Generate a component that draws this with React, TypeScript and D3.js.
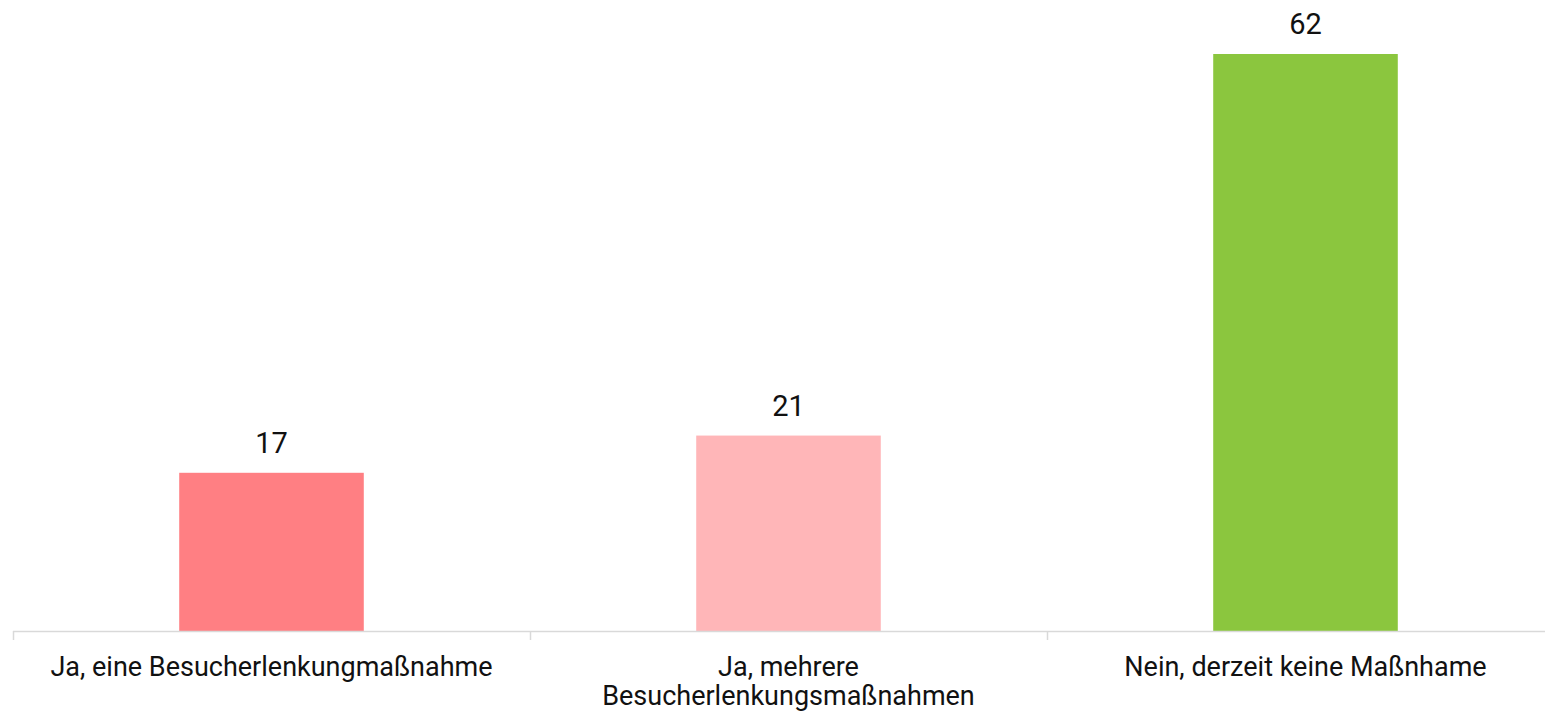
import React from "react";
import * as d3 from "d3";

const categories: string[][] = [
  ["Ja, eine Besucherlenkungmaßnahme"],
  ["Ja, mehrere", "Besucherlenkungsmaßnahmen"],
  ["Nein, derzeit keine Maßnhame"],
];
const values: number[] = [17, 21, 62];
const colors: string[] = ["#FF7F83", "#FFB6B8", "#8BC63E"];

const W = 1545;
const H = 715;
const left = 13;
const right = 1564;
const baseline = 631;
const topY = 54;

export default function App() {
  const keys = categories.map((_, i) => String(i));
  const x = d3.scaleBand<string>().domain(keys).range([left, right]).paddingInner(0).paddingOuter(0);
  const y = d3.scaleLinear().domain([0, 62]).range([baseline, topY]);
  const bw = x.bandwidth() * 0.357;
  const ticks = [left, ...keys.map((k) => (x(k) as number) + x.bandwidth())];
  const font = "Roboto, 'Noto Sans', sans-serif";
  return (
    <svg
      width={W}
      height={H}
      style={{ position: "fixed", left: 0, top: 0, background: "#fff" }}
      fontFamily={font}
    >
      {values.map((v, i) => {
        const cx = (x(keys[i]) as number) + x.bandwidth() / 2;
        return (
          <g key={i}>
            <rect x={cx - bw / 2} y={y(v)} width={bw} height={baseline - y(v)} fill={colors[i]} />
            <text x={cx} y={y(v) - 20} textAnchor="middle" fontSize={29} fill="#111">
              {v}
            </text>
          </g>
        );
      })}
      <line x1={left} x2={right} y1={baseline + 0.5} y2={baseline + 0.5} stroke="#d9d9d9" strokeWidth={1.5} />
      {ticks.map((t, i) => (
        <line key={i} x1={t + 0.5} x2={t + 0.5} y1={baseline} y2={baseline + 9} stroke="#d9d9d9" strokeWidth={1.5} />
      ))}
      {categories.map((lines, i) => {
        const cx = (x(keys[i]) as number) + x.bandwidth() / 2;
        return (
          <text key={i} textAnchor="middle" fontSize={27} fill="#111">
            {lines.map((l, j) => (
              <tspan key={j} x={cx} y={676 + j * 29}>
                {l}
              </tspan>
            ))}
          </text>
        );
      })}
    </svg>
  );
}
